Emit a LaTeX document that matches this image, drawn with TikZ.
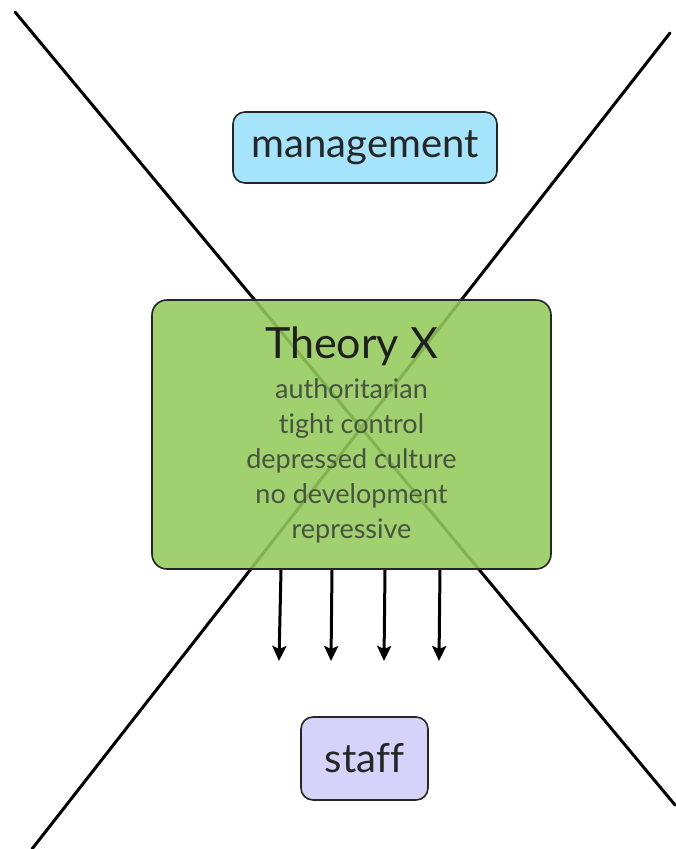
\documentclass[tikz,border=0pt]{standalone}
\usepackage{fontspec}
\setmainfont{Lato}[Ligatures={NoCommon}]
\definecolor{mgmtblue}{RGB}{165,228,250}
\definecolor{theorygreen}{RGB}{147,203,90}
\definecolor{stafflilac}{RGB}{214,210,250}
\definecolor{notegray}{RGB}{72,82,66}
\usetikzlibrary{arrows.meta, positioning}
\tikzset{
    rolebox/.style={rectangle, rounded corners=12pt, draw=black!85, line width=1.6pt,
                    align=center, inner sep=0pt, text=black!85, font=\fontsize{40}{44}\selectfont},
    theorybox/.style={rectangle, rounded corners=15pt, draw=black!85, line width=1.6pt,
                      fill=theorygreen, fill opacity=0.88, text opacity=1, text=notegray,
                      align=center, inner sep=0pt, font=\fontsize{27}{35}\selectfont},
    crossline/.style={line width=3pt, black, line cap=round},
    arrow/.style={-{Stealth[length=15pt, width=14pt, inset=3pt]}, line width=3pt, black},
}

\begin{document}
\begin{tikzpicture}[x=1pt, y=-1pt]
    \useasboundingbox (0,0) rectangle (675,849);

    % the big X behind everything
    \coordinate (tl) at (15,12);
    \coordinate (br) at (675,805);
    \coordinate (tr) at (670,33);
    \coordinate (bl) at (32,849);
    \draw[crossline] (tl) -- (br);
    \draw[crossline] (tr) -- (bl);

    \node[rolebox, fill=mgmtblue, minimum width=264pt, minimum height=71pt] (mgmt) at (365,147.5) {management};

    \node[theorybox, minimum width=399pt, minimum height=269pt] (theory) at (351.5,434.5)
        {{\fontsize{43}{44}\selectfont\color{black!88}Theory X}\\[5pt]
         authoritarian\\tight control\\depressed culture\\no development\\repressive};

    \node[rolebox, fill=stafflilac, minimum width=127pt, minimum height=83pt] (staff) at (364.5,758.5) {staff};

    % pressure on the staff
    \coordinate (a1) at (281,570);
    \coordinate (a2) at (332,570);
    \coordinate (a3) at (385,570);
    \coordinate (a4) at (440,570);
    \coordinate (t1) at (279,661);
    \coordinate (t2) at (331,661);
    \coordinate (t3) at (384,661);
    \coordinate (t4) at (439,661);
    \draw[arrow] (a1) -- (t1);
    \draw[arrow] (a2) -- (t2);
    \draw[arrow] (a3) -- (t3);
    \draw[arrow] (a4) -- (t4);
\end{tikzpicture}
\end{document}
